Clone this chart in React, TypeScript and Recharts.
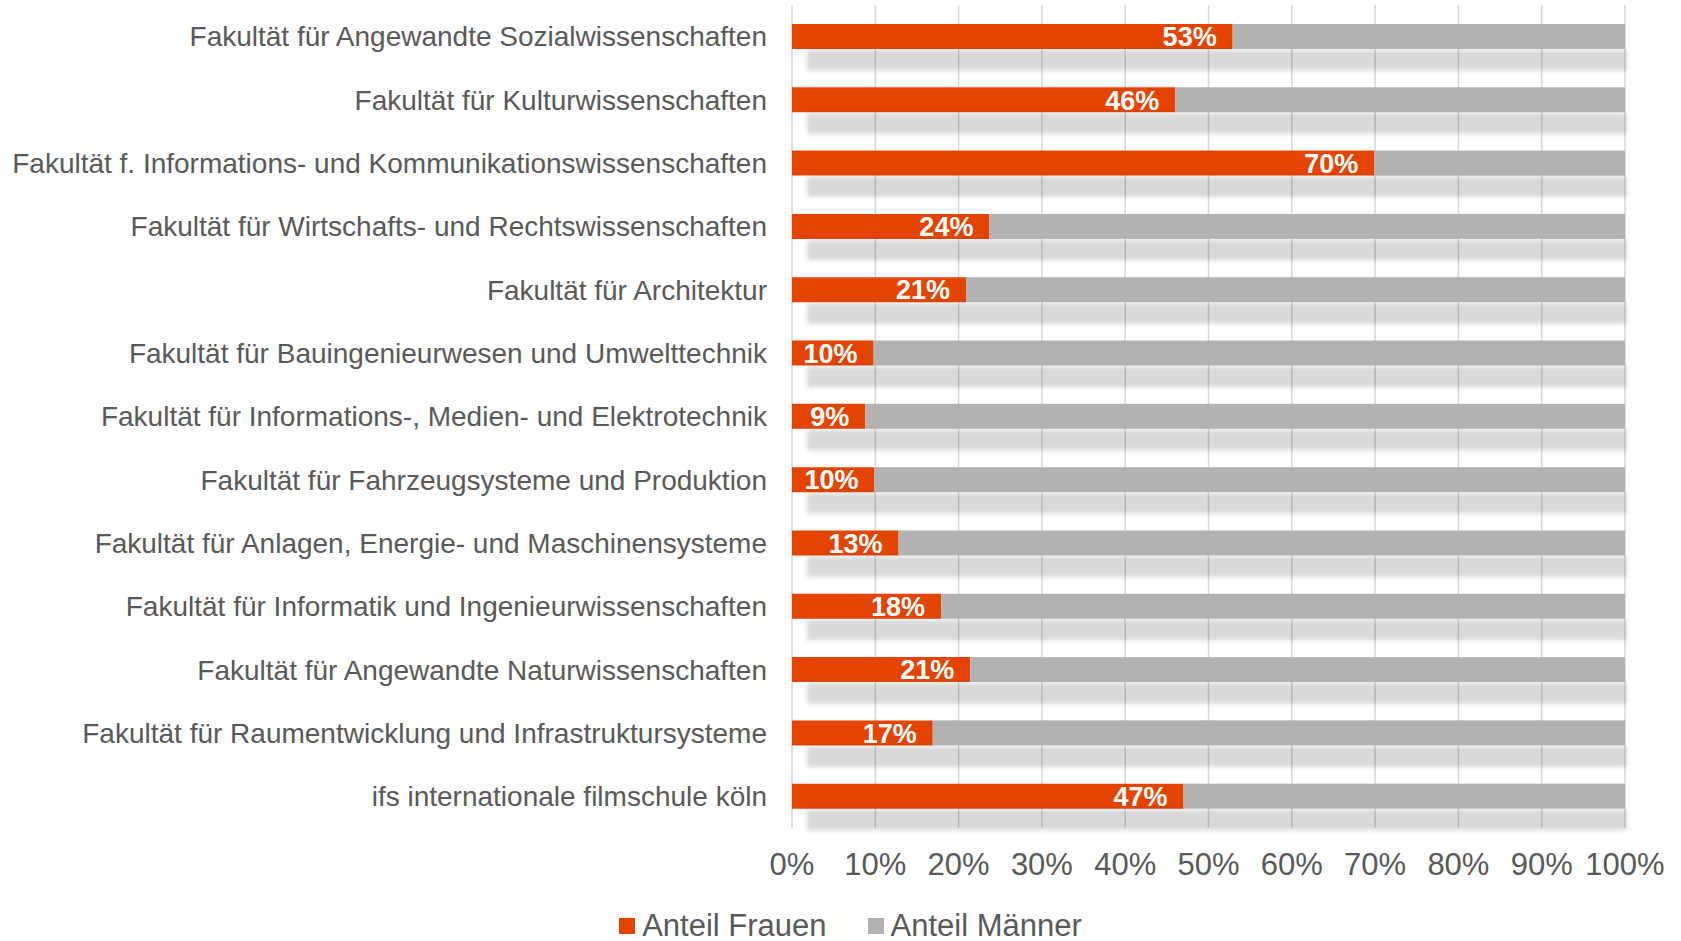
import React from 'react';
import { BarChart, Bar, XAxis, YAxis, CartesianGrid, Legend, LabelList } from 'recharts';

const faculties = [
  'Fakultät für Angewandte Sozialwissenschaften',
  'Fakultät für Kulturwissenschaften',
  'Fakultät f. Informations- und Kommunikationswissenschaften',
  'Fakultät für Wirtschafts- und Rechtswissenschaften',
  'Fakultät für Architektur',
  'Fakultät für Bauingenieurwesen und Umwelttechnik',
  'Fakultät für Informations-, Medien- und Elektrotechnik',
  'Fakultät für Fahrzeugsysteme und Produktion',
  'Fakultät für Anlagen, Energie- und Maschinensysteme',
  'Fakultät für Informatik und Ingenieurwissenschaften',
  'Fakultät für Angewandte Naturwissenschaften',
  'Fakultät für Raumentwicklung und Infrastruktursysteme',
  'ifs internationale filmschule köln',
];

// percentages
const anteilFrauen = [52.9, 46.0, 69.9, 23.7, 20.9, 9.8, 8.8, 9.9, 12.8, 17.9, 21.4, 16.9, 47.0];
const anteilMaenner = [47.1, 54.0, 30.1, 76.3, 79.1, 90.2, 91.2, 90.1, 87.2, 82.1, 78.6, 83.1, 53.0];

const xTicks = [0, 10, 20, 30, 40, 50, 60, 70, 80, 90, 100];

const ORANGE = '#e34400';
const GREY = '#b2b2b2';
const TEXT = '#595959';
const FONT = '"Liberation Sans", Arial, sans-serif';

const data = faculties.map((name, i) => ({
  name,
  frauen: anteilFrauen[i],
  maenner: anteilMaenner[i],
}));

const CategoryTick = (props: any) => {
  const { x, y, payload } = props;
  return (
    <text x={x} y={y} dy="0.35em" textAnchor="end" fill={TEXT} fontSize={28} fontFamily={FONT}>
      {payload.value}
    </text>
  );
};

const PercentTick = (props: any) => {
  const { x, y, payload } = props;
  return (
    <text x={x} y={y} dy="0.35em" textAnchor="middle" fill={TEXT} fontSize={31} fontFamily={FONT}>
      {`${payload.value}%`}
    </text>
  );
};

// grey bar plus the soft drop shadow Excel put under each row
const MaennerShape = (props: any) => {
  const { x, y, width, height, payload, index } = props;
  const unit = width / payload.maenner;
  const x0 = x - payload.frauen * unit;
  const id = `shadow-${index}`;
  return (
    <g>
      <defs>
        <filter id={id} x="-5%" y="-50%" width="110%" height="200%">
          <feGaussianBlur stdDeviation="2.2" />
        </filter>
      </defs>
      <rect
        x={x0 + 15}
        y={y + height + 1}
        width={x + width - x0 - 13}
        height={height * 0.82}
        fill="#000"
        fillOpacity={0.15}
        filter={`url(#${id})`}
      />
      <rect x={x} y={y} width={width} height={height} fill={GREY} />
    </g>
  );
};

const ValueLabel = (props: any) => {
  const { x, y, width, height, value } = props;
  return (
    <text
      x={x + width - 16}
      y={y + height / 2}
      dy="0.36em"
      textAnchor="end"
      fill="#fff"
      fontSize={27}
      fontWeight="bold"
      fontFamily={FONT}
    >
      {`${Math.round(value)}%`}
    </text>
  );
};

const LegendContent = () => (
  <div
    style={{
      display: 'flex',
      justifyContent: 'center',
      alignItems: 'center',
      paddingTop: 12,
      paddingLeft: 76,
      fontFamily: FONT,
      fontSize: 31,
      color: TEXT,
    }}
  >
    <div style={{ display: 'flex', alignItems: 'center', marginRight: 41 }}>
      <div style={{ width: 16, height: 16, background: ORANGE, marginRight: 7 }}></div>
      <span>Anteil Frauen</span>
    </div>
    <div style={{ display: 'flex', alignItems: 'center' }}>
      <div style={{ width: 16, height: 16, background: GREY, marginRight: 7 }}></div>
      <span>Anteil Männer</span>
    </div>
  </div>
);

const App = () => {
  return (
    <div style={{ position: 'absolute', left: 0, top: 0, background: '#fff' }}>
      <BarChart
        width={1681}
        height={941}
        data={data}
        layout="vertical"
        margin={{ top: 5, right: 56, bottom: 0, left: 0 }}
      >
        <CartesianGrid horizontal={false} stroke="#d6d6d6" strokeWidth={1.5} />
        <XAxis
          type="number"
          domain={[0, 100]}
          ticks={xTicks}
          axisLine={false}
          tickLine={false}
          tickSize={0}
          tickMargin={36}
          height={68}
          tick={<PercentTick />}
          interval={0}
        />
        <YAxis
          type="category"
          dataKey="name"
          width={792}
          axisLine={false}
          tickLine={false}
          tickSize={0}
          tickMargin={25}
          tick={<CategoryTick />}
          interval={0}
        />
        <Legend verticalAlign="bottom" height={45} content={<LegendContent />} />
        <Bar dataKey="frauen" stackId="a" fill={ORANGE} barSize={25} isAnimationActive={false}>
          <LabelList dataKey="frauen" content={<ValueLabel />} />
        </Bar>
        <Bar
          dataKey="maenner"
          stackId="a"
          fill={GREY}
          barSize={25}
          shape={<MaennerShape />}
          isAnimationActive={false}
        />
      </BarChart>
    </div>
  );
};

export default App;
